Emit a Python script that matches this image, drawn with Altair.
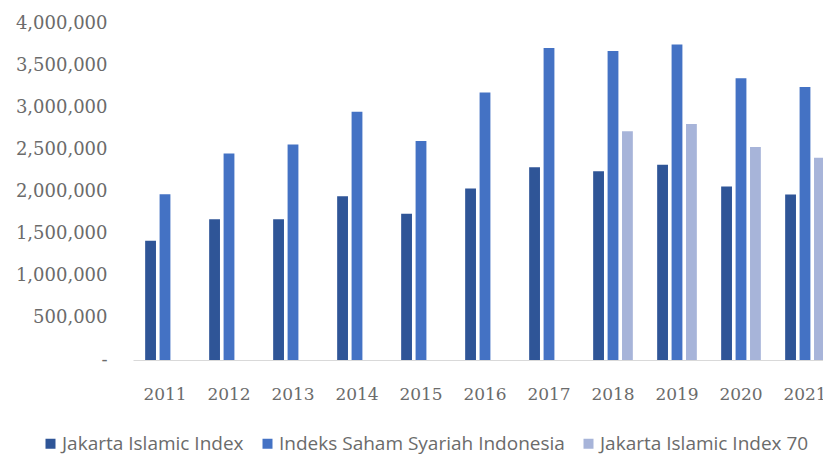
import altair as alt
import pandas as pd

years = ["2011", "2012", "2013", "2014", "2015", "2016", "2017", "2018", "2019", "2020", "2021"]
series = ["Jakarta Islamic Index", "Indeks Saham Syariah Indonesia", "Jakarta Islamic Index 70"]
jii = [1414983, 1671004, 1672099, 1944531, 1737290, 2035189, 2288015, 2239507, 2318566, 2058772, 1965000]
issi = [1968091, 2451334, 2557846, 2946892, 2600851, 3175053, 3704543, 3666688, 3744816, 3344926, 3240000]
jii70 = [None, None, None, None, None, None, None, 2715851, 2800001, 2527421, 2400000]
colors = ["#2F5597", "#4472C4", "#A7B4D9"]
y_ticks = [0, 500000, 1000000, 1500000, 2000000, 2500000, 3000000, 3500000, 4000000]

rows = []
for i, yr in enumerate(years):
    for s, vals in zip(series, [jii, issi, jii70]):
        if vals[i] is not None:
            rows.append({"year": yr, "series": s, "value": vals[i]})
df = pd.DataFrame(rows)

label_color = "#6b6b6b"

chart = alt.Chart(df).mark_bar(clip=True).encode(
    x=alt.X(
        "year:N", sort=years,
        scale=alt.Scale(domain=years, range=[0, 704], paddingInner=0.38, paddingOuter=0.19),
        axis=alt.Axis(title=None, labelAngle=0, ticks=False, domainColor="#D9D9D9", domainWidth=1,
                      labelFont="DejaVu Serif", labelFontSize=17, labelColor=label_color,
                      labelPadding=26, grid=False),
    ),
    xOffset=alt.XOffset("series:N", sort=series,
                        scale=alt.Scale(domain=series, paddingInner=0.25, paddingOuter=0)),
    y=alt.Y(
        "value:Q",
        scale=alt.Scale(domain=[0, 4000000], nice=False),
        axis=alt.Axis(title=None, values=y_ticks, grid=False, domain=False, ticks=False,
                      labelExpr="datum.value == 0 ? '-\u00a0\u00a0' : format(datum.value, ',')",
                      labelFont="DejaVu Serif", labelFontSize=18, labelColor=label_color,
                      labelPadding=26),
    ),
    color=alt.Color(
        "series:N", sort=series,
        scale=alt.Scale(domain=series, range=colors),
        legend=alt.Legend(title=None, orient="none", legendX=-92, legendY=411,
                          direction="horizontal", symbolType="square", symbolSize=100,
                          symbolStrokeWidth=0, labelFont="Open Sans", labelFontSize=19,
                          labelColor=label_color, labelOffset=2, columnPadding=14,
                          padding=0, labelLimit=400),
    ),
).properties(
    width=690, height=337,
    padding={"left": 133, "top": 23, "right": 0, "bottom": 95},
    autosize=alt.AutoSizeParams(type="none"),
    background="white",
).configure_view(stroke=None)

chart.save("out.html", embed_options={"renderer": "svg", "actions": False})
